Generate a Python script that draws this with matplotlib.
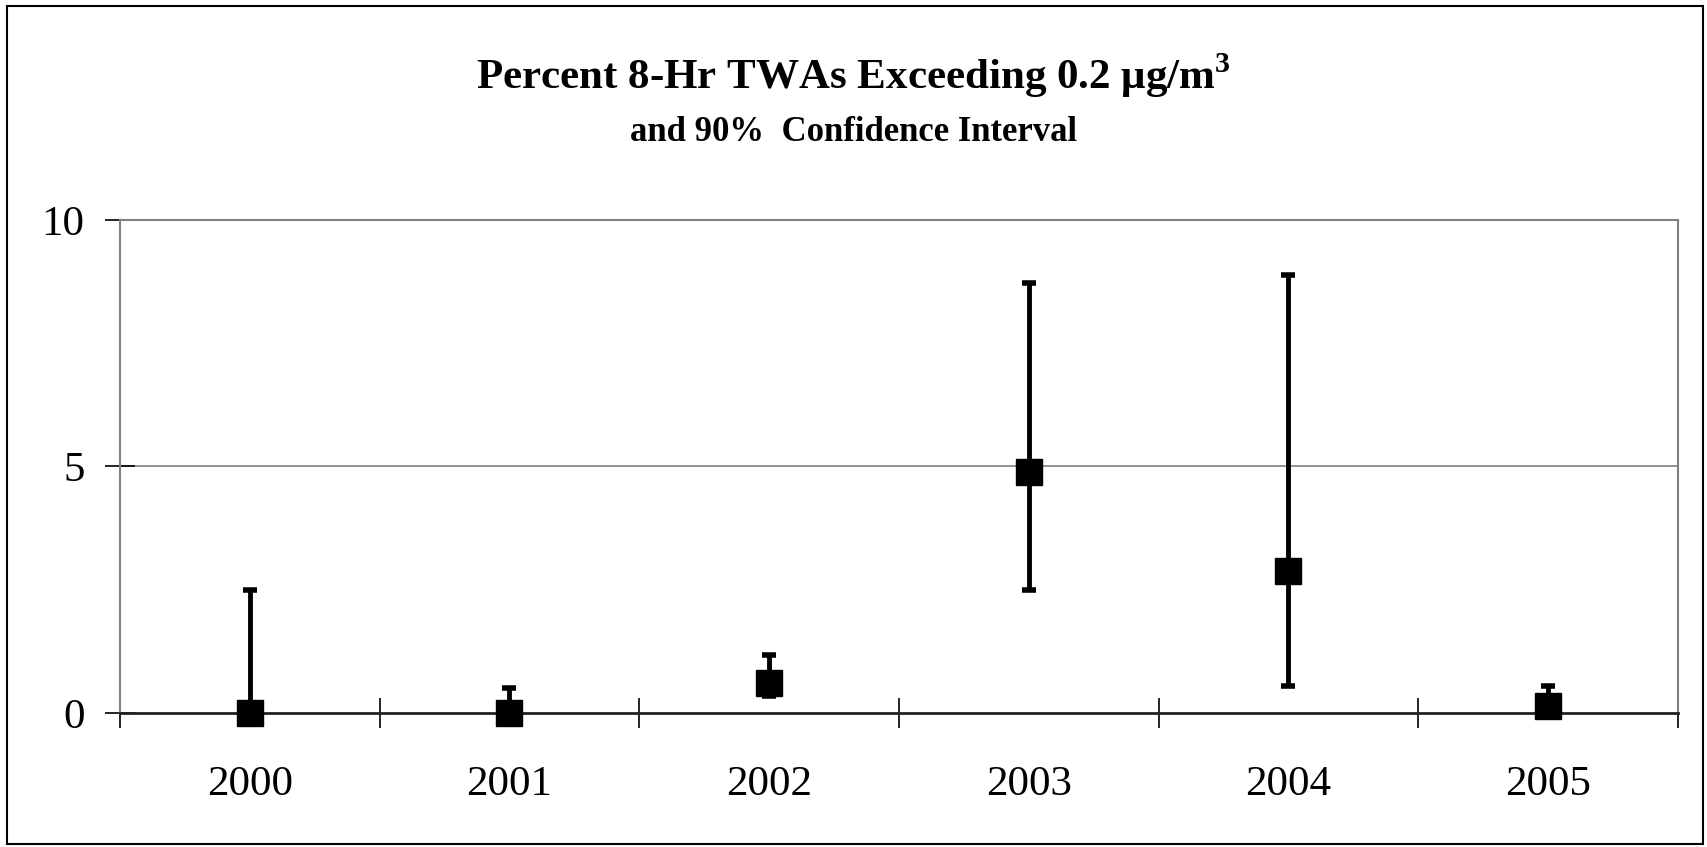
import matplotlib
matplotlib.use('Agg')
import matplotlib.pyplot as plt
from matplotlib.patches import Rectangle
import numpy as np

plt.rcParams['font.family'] = ['Liberation Serif', 'DejaVu Serif']
plt.rcParams['mathtext.fontset'] = 'custom'
plt.rcParams['mathtext.rm'] = 'Liberation Serif'
plt.rcParams['mathtext.bf'] = 'Liberation Serif:bold'

# data (percent)
years = ['2000', '2001', '2002', '2003', '2004', '2005']
pct = [0.0, 0.0, 0.61, 4.89, 2.88, 0.14]
ci_low = [0.0, 0.0, 0.35, 2.49, 0.55, 0.0]
ci_high = [2.5, 0.5, 1.18, 8.72, 8.88, 0.55]
y_ticks = [0, 5, 10]

fig = plt.figure(figsize=(17.07, 8.47), dpi=100)
ax = fig.add_axes([120 / 1707, 1 - 713 / 847, 1558 / 1707, 493 / 847])

x = np.arange(len(years))
pct = np.array(pct)
err = [pct - np.array(ci_low), np.array(ci_high) - pct]
ax.errorbar(x, pct, yerr=err, fmt='s', color='black', ecolor='black',
            markersize=18.5, elinewidth=3.5, capsize=5, capthick=4,
            clip_on=False, zorder=3)

ax.set_xlim(-0.5, len(years) - 0.5)
ax.set_ylim(0, 10)

# gridline at 5
ax.axhline(5, color='#808080', lw=1.2, zorder=1)

ax.set_yticks(y_ticks)
ax.set_yticklabels([str(v) for v in y_ticks], fontsize=31)
ax.tick_params(axis='y', direction='inout', length=21, width=1.2,
               color='black', pad=15)

ax.set_xticks(np.arange(-0.5, len(years), 1.0))
ax.set_xticklabels([])
ax.tick_params(axis='x', which='major', direction='inout', length=21,
               width=1.2, color='black')
ax.set_xticks(x, minor=True)
ax.set_xticklabels(years, minor=True, fontsize=31)
ax.tick_params(axis='x', which='minor', length=0, pad=38)

for s in ['left', 'top', 'right']:
    ax.spines[s].set_color('#808080')
    ax.spines[s].set_linewidth(1.5)
ax.spines['bottom'].set_color('#222222')
ax.spines['bottom'].set_linewidth(2)

fig.text(0.5, 1 - 89 / 847,
         r'Percent 8-Hr TWAs Exceeding 0.2 $\mathbf{\mu}$g/m$^{\mathbf{3}}$',
         ha='center', va='baseline', fontsize=31, fontweight='bold')
fig.text(0.5, 1 - 141 / 847, 'and 90%  Confidence Interval',
         ha='center', va='baseline', fontsize=25, fontweight='bold')

# outer chart border
fig.patches.append(Rectangle((7 / 1707, 3 / 847), 1696 / 1707, 838 / 847,
                             transform=fig.transFigure, fill=False,
                             edgecolor='black', lw=1.5))

fig.savefig('out.png', dpi=100)
